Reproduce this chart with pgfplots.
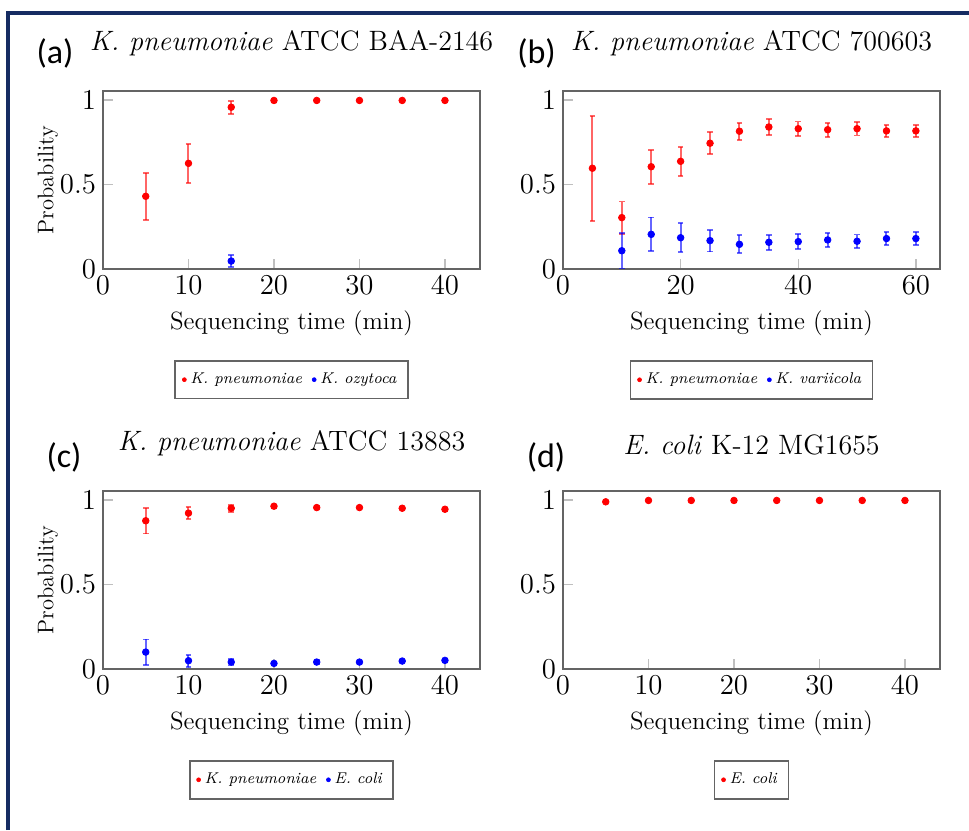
\documentclass[border=0pt]{standalone}
\usepackage{fontspec}
\newfontfamily\carlito{Carlito}
\usepackage{pgfplots}
\pgfplotsset{compat=1.18}
\definecolor{navy}{RGB}{22,44,98}
\definecolor{axgray}{RGB}{100,100,100}
\newcommand{\lit}[1]{\textit{\addfontfeature{LetterSpace=6}#1}}

\pgfplotsset{
  panel/.style={
    scale only axis, width=188.5pt, height=89pt,
    xmin=0, ymin=0, ymax=1.053,
    ytick={0,0.5,1},
    tick pos=left, tick align=inside,
    major tick length=5pt,
    tick style={black!25, line width=0.7pt},
    axis line style={draw=axgray, line width=1pt},
    ticklabel style={font=\fontsize{14.5}{16}\selectfont},
    xlabel={Sequencing time (min)},
    xlabel style={at={(axis description cs:0.5,-0.303)}, anchor=center, font=\fontsize{12.5}{14}\selectfont},
    title style={at={(0.5,1)}, anchor=base, yshift=14pt, font=\fontsize{14}{15}\selectfont},
    legend style={at={(0.5,-0.511)}, anchor=north, draw=axgray, line width=0.9pt,
      font=\fontsize{7.8}{8.8}\selectfont, legend columns=-1, inner xsep=3.5pt, inner ysep=4pt,
      /tikz/every even column/.append style={column sep=3pt}},
    legend cell align=left,
    legend image post style={mark size=1pt, line width=0.3pt},
  },
  ylab/.style={ylabel={Probability},
    ylabel style={at={(axis description cs:-0.146,0.5)}, anchor=center, font=\fontsize{11.3}{12}\selectfont}},
  ser/.style={only marks, mark=*, mark size=1.65pt, #1, mark options={fill=#1, draw=#1},
    error bars/.cd, y dir=both, y explicit,
    error bar style={#1, line width=1pt, opacity=0.6},
    error mark options={rotate=90, mark size=1.4pt, line width=0.9pt, #1, opacity=0.6}},
}

\begin{document}
\begin{tikzpicture}
% ---------- (a)
\begin{axis}[panel, ylab, at={(51.5pt,280.5pt)}, anchor=south west,
  xmax=44.1, xtick={0,10,20,30,40},
  title={\textit{K. pneumoniae} ATCC BAA-2146}]
\addplot[ser=red] table[x index=0, y index=1, y error index=2] {
5 0.43 0.14
10 0.625 0.115
15 0.957 0.038
20 0.997 0.003
25 0.997 0.003
30 0.997 0.003
35 0.997 0.003
40 0.997 0.003
};
\addplot[ser=blue] table[x index=0, y index=1, y error index=2] {
15 0.047 0.035
};
\legend{\lit{K. pneumoniae}, \lit{K. ozytoca}}
\end{axis}
% ---------- (b)
\begin{axis}[panel, at={(281.5pt,280.5pt)}, anchor=south west,
  xmax=64.1, xtick={0,20,40,60},
  title={\textit{K. pneumoniae} ATCC 700603}]
\addplot[ser=red] table[x index=0, y index=1, y error index=2] {
5 0.596 0.31
10 0.304 0.095
15 0.605 0.10
20 0.637 0.086
25 0.744 0.065
30 0.815 0.05
35 0.840 0.045
40 0.830 0.042
45 0.824 0.042
50 0.830 0.04
55 0.817 0.037
60 0.817 0.037
};
\addplot[ser=blue] table[x index=0, y index=1, y error index=2] {
10 0.108 0.105
15 0.205 0.10
20 0.185 0.086
25 0.168 0.065
30 0.146 0.053
35 0.158 0.045
40 0.162 0.043
45 0.172 0.043
50 0.164 0.04
55 0.180 0.037
60 0.180 0.037
};
\legend{\lit{K. pneumoniae}, \lit{K. variicola}}
\end{axis}
% ---------- (c)
\begin{axis}[panel, ylab, at={(51.5pt,80.5pt)}, anchor=south west,
  xmax=44.1, xtick={0,10,20,30,40},
  title={\textit{K. pneumoniae} ATCC 13883}]
\addplot[ser=red] table[x index=0, y index=1, y error index=2] {
5 0.877 0.076
10 0.922 0.037
15 0.951 0.02
20 0.963 0.01
25 0.955 0.008
30 0.955 0.008
35 0.951 0.008
40 0.945 0.008
};
\addplot[ser=blue] table[x index=0, y index=1, y error index=2] {
5 0.100 0.075
10 0.049 0.035
15 0.041 0.02
20 0.033 0.01
25 0.041 0.01
30 0.041 0.008
35 0.047 0.008
40 0.051 0.008
};
\legend{\lit{K. pneumoniae}, \lit{E. coli}}
\end{axis}
% ---------- (d)
\begin{axis}[panel, at={(281.5pt,80.5pt)}, anchor=south west,
  xmax=44.1, xtick={0,10,20,30,40},
  title style={yshift=-2pt},
  title={\textit{E. coli} K-12 MG1655}]
\addplot[only marks, mark=*, mark size=1.65pt, red] table[x index=0, y index=1] {
5 0.989
10 0.997
15 0.997
20 0.997
25 0.997
30 0.997
35 0.997
40 0.997
};
\legend{\lit{E. coli}}
\end{axis}
% panel letters
\node[font=\carlito\fontsize{17}{18}\selectfont] at (27.5pt,388.5pt) {(a)};
\node[font=\carlito\fontsize{17}{18}\selectfont] at (268.25pt,388.5pt) {(b)};
\node[font=\carlito\fontsize{17}{18}\selectfont] at (32pt,186.5pt) {(c)};
\node[font=\carlito\fontsize{17}{18}\selectfont] at (273pt,186.5pt) {(d)};
% frame
\draw[navy, line width=1.6pt] (4pt,0) -- (4pt,408.5pt) -- (484.5pt,408.5pt);
\pgfresetboundingbox
\path[use as bounding box] (0,0) rectangle (484.5pt,415pt);
\end{tikzpicture}
\end{document}
